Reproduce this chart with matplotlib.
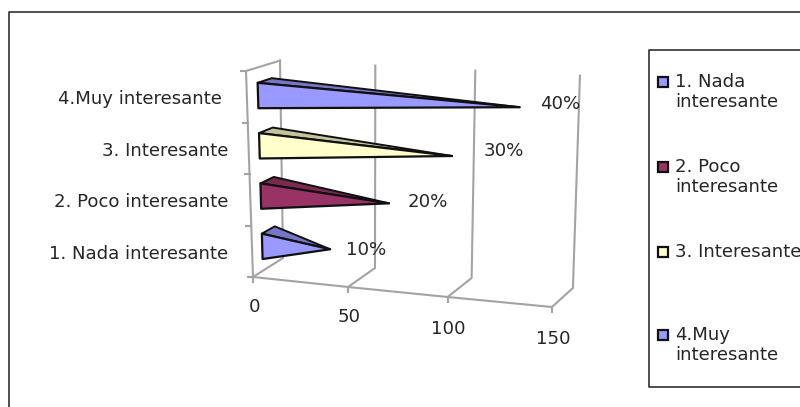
import matplotlib
matplotlib.use("Agg")
import matplotlib.pyplot as plt
from matplotlib.patches import Polygon, Rectangle

plt.rcParams["font.family"] = ["DejaVu Sans"]

# Survey answers, bottom bar first
categories = ["1. Nada interesante", "2. Poco interesante", "3. Interesante", "4.Muy interesante "]
values = [35, 66, 98, 131]
percent_labels = ["10%", "20%", "30%", "40%"]
value_ticks = [0, 50, 100, 150]
legend_labels = ["1. Nada\ninteresante", "2. Poco\ninteresante", "3. Interesante", "4.Muy\ninteresante"]

front_colors = ["#9999ff", "#993366", "#ffffcc", "#9999ff"]
top_colors = ["#7676c6", "#7a2951", "#c4c49c", "#7676c6"]
label_gap = [36, 39, 52, 41]
label_lift = [-1, 1, 5, 3]

GRID = "#a3a3a3"
TEXT = "#262626"
FONT = 13.1


def project(v, h, d):
    # oblique view: v along the value axis, h up the category axis, d into the page
    lean = -1.75 + d + v * 0.0167 * d
    x = 253 + 1.853 * v + 0.000933 * v * v + d * (30 - v * 0.06) + h * lean
    y = 277 + v * 0.2 * (1 - 0.125 * h) - d * 19 - h * (51.5 - 2.15 * d)
    return x, y


fig = plt.figure(figsize=(8, 4.07), dpi=100)
ax = fig.add_axes([0, 0, 1, 1])
ax.set_xlim(0, 800)
ax.set_ylim(407, 0)
ax.axis("off")

# outer chart frame and legend box run off the right side
ax.plot([800, 9, 9], [12, 12, 407], color="#303030", lw=1.2)
ax.plot([800, 649, 649, 800], [50, 50, 387, 387], color="#303030", lw=1.2)

# floor and walls
floor = [project(v, 0, 0) for v in value_ticks]
ax.plot(*zip(*floor), color=GRID, lw=1.5)
for v in value_ticks:
    ax.plot(*zip(project(v, 0, 0), project(v, 0, 1), project(v, 4, 1)), color=GRID, lw=1.5)
ax.plot(*zip(project(0, 0, 0), project(0, 4, 0), project(0, 4, 1)), color=GRID, lw=1.5)

# small ticks on the category axis
for h in range(5):
    x, y = project(0, h, 0)
    ax.plot([x - 5, x], [y, y], color=GRID, lw=1.5)
for v in value_ticks:
    x, y = project(v, 0, 0)
    ax.plot([x, x], [y, y + 5], color=GRID, lw=1.5)

# sideways pyramids
for i, v in enumerate(values):
    h0 = 0.23 + i * 0.99
    base_bottom = project(0, h0, 0.33)
    base_top = project(0, h0 + 0.5, 0.33)
    back_top = project(0, h0 + 0.5, 0.75)
    tip = project(v, h0 + 0.29, 0.42)
    ax.add_patch(Polygon([base_top, back_top, tip], closed=True, fc=top_colors[i],
                         ec="#101010", lw=1.4, joinstyle="round", zorder=3))
    ax.add_patch(Polygon([base_bottom, base_top, tip], closed=True, fc=front_colors[i],
                         ec="#101010", lw=1.6, joinstyle="round", zorder=3))
    ax.text(tip[0] + label_gap[i], tip[1] - label_lift[i], percent_labels[i], ha="center", va="center",
            fontsize=FONT, color=TEXT, zorder=4)

for i, name in enumerate(categories):
    x, y = project(0, i + 0.5, 0)
    ax.text(228, y + 2.5, name, ha="right", va="center", fontsize=FONT, color=TEXT)

for v in value_ticks:
    x, y = project(v, 0, 0)
    ax.text(x + 1, y + 29.5 + v * 0.02, str(v), ha="center", va="center", fontsize=FONT, color=TEXT)

# legend
legend_y = [92, 177, 252, 345]
for label, fc, y in zip(legend_labels, front_colors, legend_y):
    first = y - 10 if "\n" in label else y
    ax.add_patch(Rectangle((658, first - 5), 10, 10, fc=fc, ec="#101010", lw=1.6, zorder=3))
    ax.text(675, y, label, ha="left", va="center", fontsize=FONT, color=TEXT,
            linespacing=1.15, clip_on=True)

fig.savefig("out.png", dpi=100)
